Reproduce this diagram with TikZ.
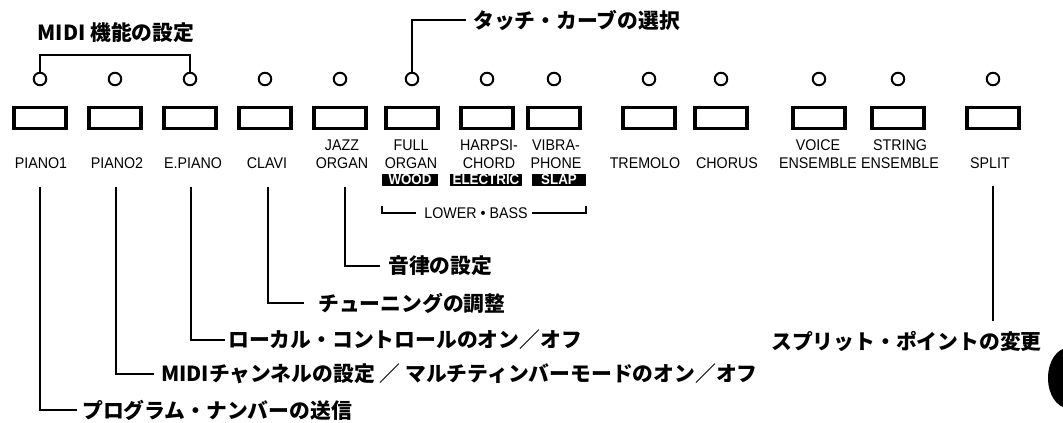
\documentclass[tikz,border=0pt]{standalone}
\usepackage{fontspec}
\setmainfont{Liberation Sans}[FakeStretch=0.92]
\newfontfamily\jpfont{Noto Sans CJK JP}
\usepackage{tikz}

\begin{document}
\begin{tikzpicture}[x=1pt,y=-1pt,
  led/.style={circle,draw,line width=2pt,minimum size=12.5pt,inner sep=0},
  btn/.style={draw,line width=3.2pt,minimum width=52pt,minimum height=21pt,inner sep=0},
  lbl/.style={align=center,anchor=south,inner sep=0,font=\fontsize{15.5}{18}\selectfont},
  tag/.style={fill=black,text=white,inner sep=0,minimum height=12.5pt,font=\bfseries\fontsize{14.5}{15}\selectfont},
  note/.style={anchor=west,inner sep=0,font=\jpfont\bfseries\fontsize{20.8}{24}\selectfont},
  ldr/.style={line width=2.2pt}]
\useasboundingbox (0,0) rectangle (1063,423);

% lamps and buttons
\foreach \n/\x in {1/40,2/115,3/190,4/265,5/340,6/412,7/487,8/554,9/649,10/721,11/819,12/898,13/993}{
  \node[led] (led\n) at (\x,79) {};
  \node[btn] (btn\n) at (\x,118) {};
}

% button names
\node[lbl] (lbl1) at (41,168.5) {PIANO1};
\node[lbl] (lbl2) at (117,168.5) {PIANO2};
\node[lbl] (lbl3) at (193,168.5) {E.PIANO};
\node[lbl] (lbl4) at (267,168.5) {CLAVI};
\node[lbl] (lbl5) at (342,168.5) {JAZZ\\ORGAN};
\node[lbl] (lbl6) at (411,168.5) {FULL\\ORGAN};
\node[lbl] (lbl7) at (489,168.5) {HARPSI-\\CHORD};
\node[lbl] (lbl8) at (556,168.5) {VIBRA-\\PHONE};
\node[lbl] (lbl9) at (645,168.5) {TREMOLO};
\node[lbl] (lbl10) at (727,168.5) {CHORUS};
\node[lbl] (lbl11) at (818,168.5) {VOICE\\ENSEMBLE};
\node[lbl] (lbl12) at (900,168.5) {STRING\\ENSEMBLE};
\node[lbl] (lbl13) at (990,168.5) {SPLIT};

% lower / bass voices
\node[tag,minimum width=56pt] (wood) at (410,180) {WOOD};
\node[tag,minimum width=72pt] (elec) at (486,180) {ELECTRIC};
\node[tag,minimum width=54pt] (slap) at (559,180) {SLAP};
\node[lbl,anchor=center] (lowbass) at (476,213) {LOWER • BASS};
\draw[line width=1.6pt] ([xshift=-8pt]lowbass.west) -| ([yshift=-20pt]wood.south west);
\draw[line width=1.6pt] ([xshift=4pt]lowbass.east) -| ([yshift=-20pt]slap.south east);

% top notes
\node[note,anchor=center] (midi) at (116,33) {MIDI 機能の設定};
\coordinate (midibar) at (116,55);
\draw[ldr] (led1.north) |- (midibar) -| (led3.north);
\node[note] (touch) at (473,20) {タッチ・カーブの選択};
\draw[ldr] (led6.north) |- ([xshift=-7pt]touch.west);

% bottom notes
\node[note] (tune) at (388,266) {音律の設定};
\node[note] (chosei) at (318,303) {チューニングの調整};
\node[note] (local) at (228,340) {ローカル・コントロールのオン／オフ};
\node[note] (midich) at (161,374) {MIDIチャンネルの設定 ／ マルチティンバーモードのオン／オフ};
\node[note] (prog) at (82,410) {プログラム・ナンバーの送信};
\node[note] (split) at (771,341) {スプリット・ポイントの変更};

\draw[ldr] ([xshift=3pt,yshift=-18pt]lbl5.south) |- ([xshift=-8pt]tune.west);
\draw[ldr] ([xshift=1pt,yshift=-18pt]lbl4.south) |- ([xshift=-14pt]chosei.west);
\draw[ldr] ([xshift=-2pt,yshift=-18pt]lbl3.south) |- ([xshift=-3pt]local.west);
\draw[ldr] ([xshift=-1pt,yshift=-18pt]lbl2.south) |- ([xshift=-7pt]midich.west);
\draw[ldr] ([xshift=-1pt,yshift=-18pt]lbl1.south) |- ([xshift=-5pt]prog.west);
\draw[ldr] ([xshift=3pt,yshift=-17pt]lbl13.south) -- ([xshift=3pt,yshift=10pt]lbl13.south |- split.north);

% page tab
\fill (1068,378) ellipse [x radius=20pt,y radius=30pt];
\end{tikzpicture}
\end{document}
